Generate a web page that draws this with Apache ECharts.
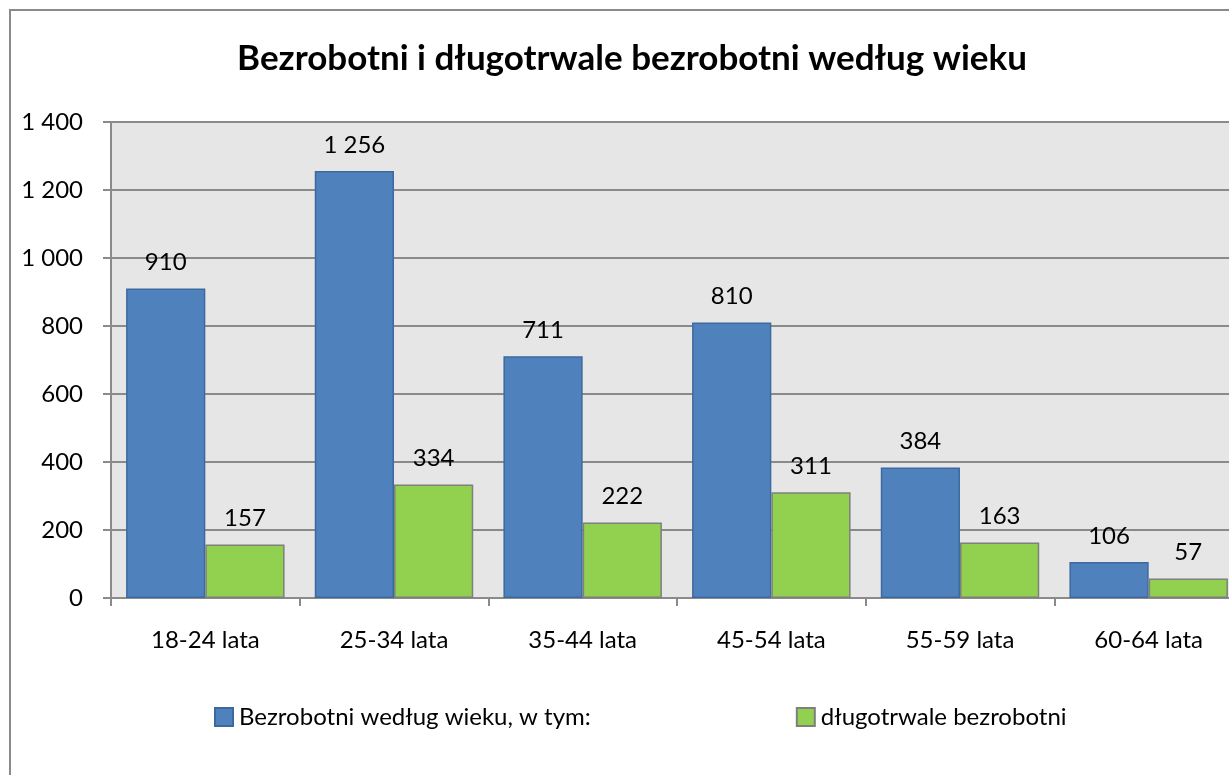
<!DOCTYPE html>
<html><head><meta charset="utf-8">
<script src="https://cdn.jsdelivr.net/npm/echarts@6/dist/echarts.min.js"></script>
<style>html,body{margin:0;padding:0;background:#fff;overflow:hidden;width:1229px;height:775px}#c{width:1300px;height:775px}</style>
</head><body><div id="c"></div>
<script>
const categories = ['18-24 lata','25-34 lata','35-44 lata','45-54 lata','55-59 lata','60-64 lata'];
const seriesNames = ['Bezrobotni według wieku, w tym:','długotrwale bezrobotni'];
const unemployed = [910, 1256, 711, 810, 384, 106];
const longTerm = [157, 334, 222, 311, 163, 57];
const yTicks = [0, 200, 400, 600, 800, 1000, 1200, 1400];

const fmt = v => String(v).replace(/\B(?=(\d{3})+(?!\d))/g, ' ');
const FONT = 'Lato, "Open Sans", sans-serif';
const chart = echarts.init(document.getElementById('c'), null, {renderer:'canvas'});
chart.setOption({
  backgroundColor: '#fff',
  animation: false,
  textStyle: {fontFamily: FONT},
  title: {
    text: 'Bezrobotni i długotrwale bezrobotni według wieku',
    left: 627, top: 36, textAlign: 'center',
    textStyle: {fontSize: 35, fontWeight: 'bold', color: '#000', fontFamily: FONT}
  },
  graphic: [{
    type: 'rect', shape: {x: 10, y: 10, width: 1400, height: 900},
    style: {fill: 'none', stroke: '#8a8a8a', lineWidth: 2}, silent: true, z: -1
  }],
  legend: {
    left: 209, top: 700, itemWidth: 18, itemHeight: 18, itemGap: 205,
    icon: 'rect',
    textStyle: {fontSize: 24, color: '#000', fontFamily: FONT, padding: [0,0,0,1]},
    data: seriesNames
  },
  grid: {
    left: 111, top: 122, width: 1132, height: 476,
    show: true, backgroundColor: '#e6e6e6', borderWidth: 0
  },
  xAxis: {
    type: 'category', data: categories,
    axisLine: {lineStyle: {color: '#8a8a8a', width: 2}},
    axisTick: {show: true, length: 8, lineStyle: {color: '#8a8a8a', width: 2}},
    axisLabel: {fontSize: 24, color: '#000', margin: 30, fontFamily: FONT}
  },
  yAxis: {
    type: 'value', min: yTicks[0], max: yTicks[yTicks.length-1], interval: 200,
    axisLine: {show: true, lineStyle: {color: '#8a8a8a', width: 2}},
    axisTick: {show: true, length: 8, lineStyle: {color: '#8a8a8a', width: 2}},
    splitLine: {lineStyle: {color: '#8a8a8a', width: 2}},
    axisLabel: {fontSize: 24, color: '#000', margin: 28, fontFamily: FONT, formatter: v => fmt(v)}
  },
  series: [
    {
      name: seriesNames[0], type: 'bar', data: unemployed,
      barGap: '0%', barCategoryGap: '16%',
      itemStyle: {color: '#4f81bd', borderColor: '#3d6a9e', borderWidth: 1.5},
      label: {show: true, position: 'top', distance: 14, fontSize: 24, color: '#000', fontFamily: FONT,
              formatter: p => fmt(p.value)}
    },
    {
      name: seriesNames[1], type: 'bar', data: longTerm,
      itemStyle: {color: '#92d050', borderColor: '#7f7f7f', borderWidth: 1.5},
      label: {show: true, position: 'top', distance: 14, fontSize: 24, color: '#000', fontFamily: FONT,
              formatter: p => fmt(p.value)}
    }
  ]
});
</script></body></html>
